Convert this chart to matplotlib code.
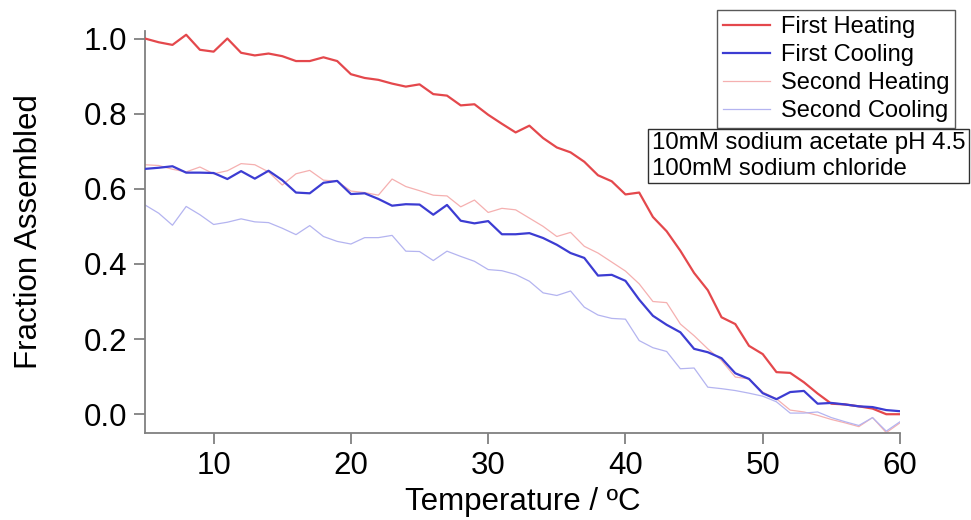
import numpy as np
import matplotlib
matplotlib.use("Agg")
import matplotlib.pyplot as plt

plt.rcParams['font.family'] = ['Liberation Sans', 'DejaVu Sans']

temperature = list(range(5, 61))

first_heating = [1.0, 0.99, 0.983, 1.01, 0.97, 0.965, 1.0, 0.962, 0.955, 0.96,
                 0.953, 0.94, 0.94, 0.95, 0.94, 0.905, 0.895, 0.89, 0.88, 0.872,
                 0.878, 0.852, 0.848, 0.822, 0.825, 0.797, 0.773, 0.75, 0.768, 0.735,
                 0.71, 0.697, 0.672, 0.636, 0.62, 0.585, 0.59, 0.525, 0.487, 0.435,
                 0.376, 0.33, 0.258, 0.24, 0.182, 0.16, 0.112, 0.11, 0.085, 0.055,
                 0.028, 0.026, 0.021, 0.015, 0.0, 0.0]

first_cooling = [0.653, 0.656, 0.66, 0.643, 0.643, 0.642, 0.626, 0.647, 0.627, 0.648,
                 0.623, 0.59, 0.588, 0.616, 0.621, 0.586, 0.588, 0.573, 0.555, 0.559,
                 0.558, 0.531, 0.557, 0.515, 0.508, 0.514, 0.479, 0.479, 0.482, 0.469,
                 0.451, 0.429, 0.416, 0.369, 0.371, 0.355, 0.305, 0.262, 0.238, 0.218,
                 0.174, 0.165, 0.149, 0.109, 0.094, 0.056, 0.04, 0.059, 0.062, 0.028,
                 0.03, 0.026, 0.021, 0.019, 0.011, 0.008]

second_heating = [0.664, 0.662, 0.652, 0.645, 0.658, 0.64, 0.648, 0.667, 0.664, 0.645,
                  0.61, 0.64, 0.649, 0.623, 0.62, 0.594, 0.59, 0.583, 0.626, 0.606,
                  0.595, 0.583, 0.581, 0.552, 0.57, 0.537, 0.548, 0.544, 0.522, 0.5,
                  0.473, 0.484, 0.447, 0.429, 0.405, 0.381, 0.347, 0.3, 0.297, 0.24,
                  0.209, 0.174, 0.143, 0.099, 0.094, 0.059, 0.041, 0.011, 0.006, -0.003,
                  -0.014, -0.023, -0.033, -0.009, -0.049, -0.023]

second_cooling = [0.557, 0.535, 0.503, 0.553, 0.531, 0.505, 0.511, 0.52, 0.512, 0.51,
                  0.495, 0.478, 0.502, 0.473, 0.46, 0.453, 0.47, 0.47, 0.476, 0.434,
                  0.433, 0.409, 0.434, 0.42, 0.407, 0.385, 0.382, 0.372, 0.354, 0.323,
                  0.316, 0.328, 0.285, 0.264, 0.255, 0.253, 0.196, 0.177, 0.167, 0.121,
                  0.123, 0.072, 0.068, 0.063, 0.056, 0.048, 0.033, 0.003, 0.003, 0.006,
                  -0.009, -0.02, -0.03, -0.009, -0.045, -0.02]

series_labels = ["First Heating", "First Cooling", "Second Heating", "Second Cooling"]
x_ticks = [10, 20, 30, 40, 50, 60]
y_ticks = [0.0, 0.2, 0.4, 0.6, 0.8, 1.0]
annotation = "10mM sodium acetate pH 4.5\n100mM sodium chloride"

fig = plt.figure(figsize=(9.71, 5.2), dpi=100)
ax = fig.add_axes([145/971, 1-433/520, (900-145)/971, (433-31)/520])

ax.plot(temperature, second_heating, color='#f5b0b0', lw=0.9, label=series_labels[2], zorder=2)
ax.plot(temperature, second_cooling, color='#b4b4f0', lw=0.9, label=series_labels[3], zorder=2)
ax.plot(temperature, first_heating, color='#e4484c', lw=1.6, label=series_labels[0], zorder=3)
ax.plot(temperature, first_cooling, color='#3c3cd2', lw=1.6, label=series_labels[1], zorder=3)

ax.set_xlim(5, 60)
ax.set_ylim(-0.05, 1.02)
ax.set_xticks(x_ticks)
ax.set_yticks(y_ticks)
ax.set_yticklabels([f"{v:.1f}" for v in y_ticks])

for s in ['top', 'right']:
    ax.spines[s].set_visible(False)
for s in ['left', 'bottom']:
    ax.spines[s].set_color('#808080')
    ax.spines[s].set_linewidth(1.3)
ax.tick_params(axis='both', direction='out', length=8, width=1.3, color='#808080',
               labelsize=22.5, labelcolor='black')
ax.tick_params(axis='x', pad=5)
ax.tick_params(axis='y', pad=5)

ax.set_xlabel("Temperature / ºC", fontsize=22.5, labelpad=4)
ax.set_ylabel("Fraction Assembled", fontsize=22.5, labelpad=28)

handles, labels = ax.get_legend_handles_labels()
order = [2, 3, 0, 1]
leg = fig.legend([handles[i] for i in order], [labels[i] for i in order],
                 loc='upper right', bbox_to_anchor=(955/971, 1-10/520),
                 fontsize=17, frameon=True, fancybox=False, borderpad=0.25,
                 labelspacing=0.26, handlelength=2.0, handletextpad=0.45,
                 borderaxespad=0)
leg.get_frame().set_edgecolor('#303030')
leg.get_frame().set_linewidth(1.0)

fig.text(652/971, 1-156/520, annotation, fontsize=17.3, ha='left', va='center',
         linespacing=1.2,
         bbox=dict(boxstyle='square,pad=0.15', facecolor='white', edgecolor='#303030', lw=1.0))

fig.savefig("out.png", dpi=100)
